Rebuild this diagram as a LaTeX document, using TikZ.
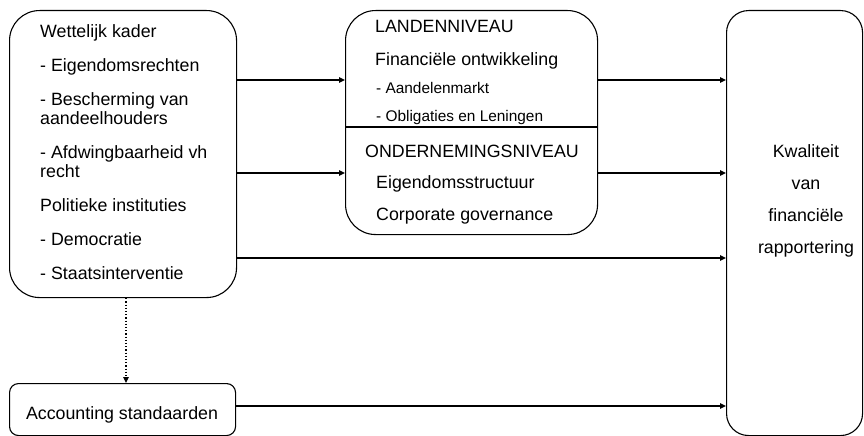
\documentclass[tikz,border=0pt]{standalone}
\usepackage{fontspec}
\setmainfont{Liberation Sans}
\usetikzlibrary{arrows.meta}
\tikzset{>={Triangle[length=6pt,width=5.5pt]}}
\tikzset{
  blok/.style={draw,line width=1.1pt,rounded corners=#1,anchor=north west,inner sep=0pt},
  blok/.default=30pt,
  tekst/.style={anchor=base west,inner sep=0pt,align=left,font=\fontsize{17.8}{19}\selectfont},
  klein/.style={anchor=base west,inner sep=0pt,align=left,font=\fontsize{15.4}{17}\selectfont},
  pijl/.style={->,line width=1.5pt}
}

\begin{document}
\begin{tikzpicture}[x=1pt,y=-1pt]
\useasboundingbox (0,0) rectangle (864,436);
\node (kader) [blok,minimum width=227pt,minimum height=287pt] at (9,10) {};
\node (niveau) [blok,minimum width=252pt,minimum height=224pt] at (345,10) {};
\node (kwaliteit) [blok=22pt,minimum width=136pt,minimum height=425pt] at (726,10) {};
\node (standaarden) [blok=9pt,minimum width=226pt,minimum height=52pt] at (9,383) {};
\coordinate (deler) at (0,127);
\coordinate (a1) at (0,80);
\coordinate (a2) at (0,173);
\coordinate (a3) at (0,258);
\coordinate (a4) at (0,406);
\coordinate (d) at (126,0);
\draw[line width=1.1pt] (niveau.west |- deler) -- (niveau.east |- deler);
\node (kadertekst) [tekst] at (40,279) {Wettelijk kader\\[15pt]- Eigendomsrechten\\[15pt]- Bescherming van\\aandeelhouders\\[15pt]- Afdwingbaarheid vh\\recht\\[15pt]Politieke instituties\\[15pt]- Democratie\\[15pt]- Staatsinterventie};
\node (landen) [tekst] at (375,66) {LANDENNIVEAU\\[14pt]Financiële ontwikkeling};
\node (markt) [klein] at (376,121) {- Aandelenmarkt\\[11pt]- Obligaties en Leningen};
\node (onderneming) [tekst] at (365,157) {ONDERNEMINGSNIVEAU};
\node (structuur) [tekst] at (376,220) {Eigendomsstructuur\\[13pt]Corporate governance};
\node (kwaliteittekst) [tekst,anchor=base,align=center] at (806,253) {Kwaliteit\\[13pt]van\\[13pt]financiële\\[13pt]rapportering};
\node (standaardentekst) [tekst,anchor=base] at (122,419) {Accounting standaarden};
\draw[pijl] (kader.east |- a1) -- (niveau.west |- a1);
\draw[pijl] (niveau.east |- a1) -- (kwaliteit.west |- a1);
\draw[pijl] (kader.east |- a2) -- (niveau.west |- a2);
\draw[pijl] (niveau.east |- a2) -- (kwaliteit.west |- a2);
\draw[pijl] (kader.east |- a3) -- (kwaliteit.west |- a3);
\draw[pijl] (standaarden.east |- a4) -- (kwaliteit.west |- a4);
\draw[->,line width=1.2pt,dotted] (kader.south -| d) -- (standaarden.north -| d);
\end{tikzpicture}
\end{document}
